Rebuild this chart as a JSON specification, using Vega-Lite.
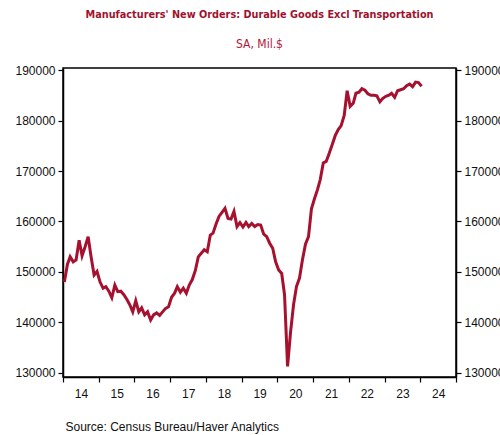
{
  "$schema": "https://vega.github.io/schema/vega-lite/v6.json",
  "width": 393,
  "height": 309,
  "autosize": "none",
  "padding": {"left": 63, "top": 68, "right": 44, "bottom": 58},
  "background": "white",
  "title": {
    "text": "Manufacturers' New Orders: Durable Goods Excl Transportation",
    "subtitle": "SA, Mil.$",
    "anchor": "middle",
    "font": "DejaVu Sans Condensed, Liberation Sans",
    "fontSize": 10.8,
    "fontWeight": "bold",
    "color": "#a0122d",
    "subtitleFont": "DejaVu Sans Condensed, Liberation Sans",
    "subtitleFontSize": 12,
    "subtitleColor": "#b0173a",
    "subtitlePadding": 19,
    "offset": 14
  },
  "config": {
    "view": {"stroke": "#000", "strokeWidth": 1.5},
    "axis": {
      "domainColor": "#000",
      "domainWidth": 1.5,
      "tickColor": "#000",
      "labelColor": "#111",
      "labelFont": "Liberation Sans, Arial",
      "labelFontSize": 12,
      "grid": false
    },
    "axisX": {"labelOverlap": false}
  },
  "data": {
    "values": [
      {"d": "2014-01-15", "v": 148000}, {"d": "2014-02-15", "v": 151500}, {"d": "2014-03-15", "v": 153000}, {"d": "2014-04-15", "v": 152000}, {"d": "2014-05-15", "v": 152400}, {"d": "2014-06-15", "v": 156300}, {"d": "2014-07-15", "v": 153200}, {"d": "2014-08-15", "v": 155000}, {"d": "2014-09-15", "v": 157000}, {"d": "2014-10-15", "v": 153000}, {"d": "2014-11-15", "v": 149400}, {"d": "2014-12-15", "v": 150100},
      {"d": "2015-01-15", "v": 148000}, {"d": "2015-02-15", "v": 146800}, {"d": "2015-03-15", "v": 147100}, {"d": "2015-04-15", "v": 146200}, {"d": "2015-05-15", "v": 144900}, {"d": "2015-06-15", "v": 147400}, {"d": "2015-07-15", "v": 146100}, {"d": "2015-08-15", "v": 146200}, {"d": "2015-09-15", "v": 145500}, {"d": "2015-10-15", "v": 144600}, {"d": "2015-11-15", "v": 143500}, {"d": "2015-12-15", "v": 142100},
      {"d": "2016-01-15", "v": 144300}, {"d": "2016-02-15", "v": 142100}, {"d": "2016-03-15", "v": 142900}, {"d": "2016-04-15", "v": 141500}, {"d": "2016-05-15", "v": 142100}, {"d": "2016-06-15", "v": 140500}, {"d": "2016-07-15", "v": 141500}, {"d": "2016-08-15", "v": 141900}, {"d": "2016-09-15", "v": 141400}, {"d": "2016-10-15", "v": 142100}, {"d": "2016-11-15", "v": 142800}, {"d": "2016-12-15", "v": 143100},
      {"d": "2017-01-15", "v": 145000}, {"d": "2017-02-15", "v": 145800}, {"d": "2017-03-15", "v": 147100}, {"d": "2017-04-15", "v": 146000}, {"d": "2017-05-15", "v": 146800}, {"d": "2017-06-15", "v": 145800}, {"d": "2017-07-15", "v": 147400}, {"d": "2017-08-15", "v": 148500}, {"d": "2017-09-15", "v": 150300}, {"d": "2017-10-15", "v": 153000}, {"d": "2017-11-15", "v": 153700}, {"d": "2017-12-15", "v": 154400},
      {"d": "2018-01-15", "v": 154000}, {"d": "2018-02-15", "v": 157300}, {"d": "2018-03-15", "v": 157700}, {"d": "2018-04-15", "v": 159500}, {"d": "2018-05-15", "v": 161000}, {"d": "2018-06-15", "v": 161800}, {"d": "2018-07-15", "v": 162600}, {"d": "2018-08-15", "v": 160600}, {"d": "2018-09-15", "v": 160500}, {"d": "2018-10-15", "v": 162000}, {"d": "2018-11-15", "v": 159000}, {"d": "2018-12-15", "v": 159800},
      {"d": "2019-01-15", "v": 158900}, {"d": "2019-02-15", "v": 159800}, {"d": "2019-03-15", "v": 159000}, {"d": "2019-04-15", "v": 159600}, {"d": "2019-05-15", "v": 159000}, {"d": "2019-06-15", "v": 159400}, {"d": "2019-07-15", "v": 159300}, {"d": "2019-08-15", "v": 157500}, {"d": "2019-09-15", "v": 157000}, {"d": "2019-10-15", "v": 155700}, {"d": "2019-11-15", "v": 154700}, {"d": "2019-12-15", "v": 152000},
      {"d": "2020-01-15", "v": 150400}, {"d": "2020-02-15", "v": 149700}, {"d": "2020-03-15", "v": 145500}, {"d": "2020-04-15", "v": 131300}, {"d": "2020-05-15", "v": 138000}, {"d": "2020-06-15", "v": 143500}, {"d": "2020-07-15", "v": 147100}, {"d": "2020-08-15", "v": 148800}, {"d": "2020-09-15", "v": 152500}, {"d": "2020-10-15", "v": 155500}, {"d": "2020-11-15", "v": 157000}, {"d": "2020-12-15", "v": 162500},
      {"d": "2021-01-15", "v": 164500}, {"d": "2021-02-15", "v": 166300}, {"d": "2021-03-15", "v": 168300}, {"d": "2021-04-15", "v": 171600}, {"d": "2021-05-15", "v": 171900}, {"d": "2021-06-15", "v": 173500}, {"d": "2021-07-15", "v": 175200}, {"d": "2021-08-15", "v": 177000}, {"d": "2021-09-15", "v": 178200}, {"d": "2021-10-15", "v": 179000}, {"d": "2021-11-15", "v": 181000}, {"d": "2021-12-15", "v": 185900},
      {"d": "2022-01-15", "v": 182800}, {"d": "2022-02-15", "v": 183400}, {"d": "2022-03-15", "v": 185400}, {"d": "2022-04-15", "v": 185600}, {"d": "2022-05-15", "v": 186300}, {"d": "2022-06-15", "v": 186000}, {"d": "2022-07-15", "v": 185300}, {"d": "2022-08-15", "v": 185000}, {"d": "2022-09-15", "v": 185000}, {"d": "2022-10-15", "v": 184900}, {"d": "2022-11-15", "v": 183700}, {"d": "2022-12-15", "v": 184400},
      {"d": "2023-01-15", "v": 184800}, {"d": "2023-02-15", "v": 185000}, {"d": "2023-03-15", "v": 185400}, {"d": "2023-04-15", "v": 184600}, {"d": "2023-05-15", "v": 185900}, {"d": "2023-06-15", "v": 186100}, {"d": "2023-07-15", "v": 186300}, {"d": "2023-08-15", "v": 186900}, {"d": "2023-09-15", "v": 187200}, {"d": "2023-10-15", "v": 186700}, {"d": "2023-11-15", "v": 187600}, {"d": "2023-12-15", "v": 187500},
      {"d": "2024-01-15", "v": 186800}
    ]
  },
  "layer": [
    {
      "mark": {"type": "line", "color": "#a6112f", "strokeWidth": 3, "clip": true},
      "encoding": {
        "x": {
          "field": "d",
          "type": "temporal",
          "scale": {"type": "utc", "domain": [1388534400000, 1735689600000], "nice": false},
          "axis": {
            "values": [1388534400000, 1420070400000, 1451606400000, 1483228800000, 1514764800000, 1546300800000, 1577836800000, 1609459200000, 1640995200000, 1672531200000, 1704067200000, 1735689600000],
            "labelExpr": "utcyear(datum.value) >= 2025 ? '' : utcFormat(datum.value, '%y')",
            "labelAlign": "center",
            "labelOffset": 18,
            "labelPadding": 6,
            "labelFlush": false,
            "labelOverlap": false,
            "labelBound": false,
            "tickSize": 5,
            "tickWidth": 1.2,
            "title": "Source:  Census Bureau/Haver Analytics",
            "titleAnchor": "start",
            "titleAlign": "left",
            "titleFont": "Liberation Sans, Arial",
            "titleFontSize": 12,
            "titleFontWeight": "normal",
            "titleColor": "#111",
            "titlePadding": 22,
            "titleX": 2
          }
        },
        "y": {
          "field": "v",
          "type": "quantitative",
          "scale": {"domain": [129200, 190400], "nice": false, "zero": false},
          "axis": {
            "values": [130000, 140000, 150000, 160000, 170000, 180000, 190000],
            "format": "d",
            "tickSize": 5,
            "tickWidth": 1.2,
            "labelPadding": 3,
            "title": null
          }
        }
      }
    },
    {
      "mark": {"type": "line", "opacity": 0, "strokeWidth": 0},
      "encoding": {
        "y": {
          "field": "v",
          "type": "quantitative",
          "axis": {
            "orient": "right",
            "values": [130000, 140000, 150000, 160000, 170000, 180000, 190000],
            "format": "d",
            "tickSize": 5,
            "tickWidth": 1.2,
            "labelPadding": 3,
            "title": null
          }
        }
      }
    }
  ],
  "resolve": {"axis": {"y": "independent"}}
}
